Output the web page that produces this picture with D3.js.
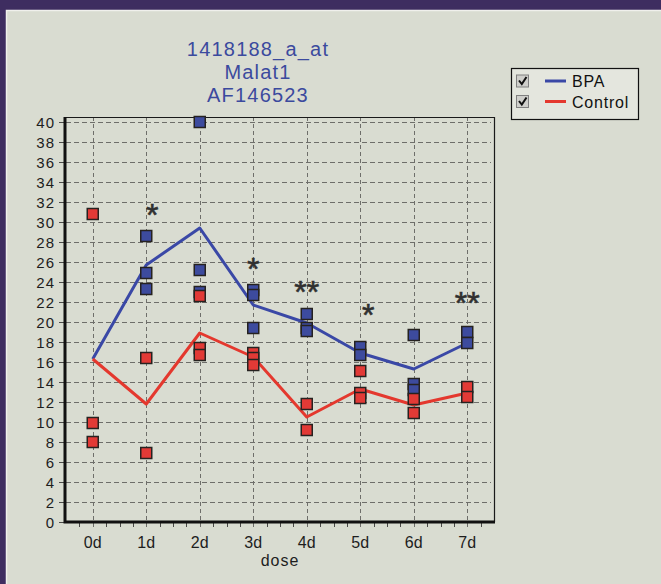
<!DOCTYPE html>
<html>
<head>
<meta charset="utf-8">
<script src="https://cdn.jsdelivr.net/npm/d3@7"></script>
<style>
  html, body { margin: 0; padding: 0; background: #d9dcd1; overflow: hidden; }
  svg { display: block; font-family: "Liberation Sans", Arial, sans-serif; }
</style>
</head>
<body>
<svg id="chart" width="661" height="584"></svg>
<script>
// ---- data ----
const days = ["0d", "1d", "2d", "3d", "4d", "5d", "6d", "7d"];
const yTickValues = [0, 2, 4, 6, 8, 10, 12, 14, 16, 18, 20, 22, 24, 26, 28, 30, 32, 34, 36, 38, 40];
const titleLines = ["1418188_a_at", "Malat1", "AF146523"];
const seriesNames = ["BPA", "Control"];

// group means (lines)
const bpaMean = [16.3, 25.7, 29.4, 21.7, 19.9, 16.9, 15.3, 17.9];
const controlMean = [16.3, 11.8, 18.9, 16.5, 10.5, 13.3, 11.7, 12.9];

// individual samples per day (squares)
const bpaSamples = [
  [], [28.6, 24.9, 23.3], [40.0, 25.2, 23.0], [23.2, 22.7, 19.4],
  [20.8, 19.4, 19.1], [17.5, 16.7], [18.7, 13.8, 13.2], [19.0, 17.9]
];
const controlSamples = [
  [30.8, 9.9, 8.0], [16.4, 6.9], [22.6, 17.4, 16.7], [16.9, 16.4, 15.7],
  [11.8, 9.2], [15.1, 12.9, 12.4], [12.3, 10.9], [13.5, 12.5]
];

// significance marks
const starDays = ["1d", "3d", "4d", "5d", "7d"];
const starMarks = ["*", "*", "**", "*", "**"];
const starLevels = [31.5, 26.1, 23.8, 21.5, 22.7];

// ---- styles ----
const colors = { BPA: "#3a48a6", Control: "#e4382e" };
const squareFill = { BPA: "#3d4b9e", Control: "#e23a36" };
const starShift = [6, 0, 0, 8, 0];

const svg = d3.select("#chart");

// panel background with dark band along the top and left edges
svg.append("rect").attr("width", 661).attr("height", 584).attr("fill", "#d9dcd1");
svg.append("path").attr("d", "M0,0 H661 V10 H6 V584 H0 Z").attr("fill", "#3e2d60");
svg.append("path").attr("d", "M6.5,584 V10.5 H661")
  .attr("fill", "none").attr("stroke", "#f0f0ec").attr("stroke-width", 1.5);

const plot = { left: 66, right: 494, top: 117, bottom: 522 };

const x = d3.scalePoint().domain(days).range([plot.left, plot.right]).padding(0.5);
const y = d3.scaleLinear().domain([0, 40]).range([522, 122]);
const xIdx = d3.scaleLinear().domain([-0.5, days.length - 0.5]).range([plot.left, plot.right]);

// title
const title = svg.append("g").attr("fill", "#3b4a9e").attr("font-size", 20)
  .attr("text-anchor", "middle").style("letter-spacing", "1.2px");
titleLines.forEach((t, i) => {
  title.append("text").attr("x", 258).attr("y", 56 + i * 23).text(t);
});

// grid: horizontal
svg.append("g").selectAll("line").data(yTickValues.filter(v => v > 0)).join("line")
  .attr("x1", plot.left).attr("x2", plot.right - 3)
  .attr("y1", d => y(d) + 0.5).attr("y2", d => y(d) + 0.5)
  .attr("stroke", "#6e6e6a").attr("stroke-width", 1).attr("stroke-dasharray", "5,3");

// grid: vertical
svg.append("g").selectAll("line").data(days).join("line")
  .attr("x1", d => Math.round(x(d)) + 0.5).attr("x2", d => Math.round(x(d)) + 0.5)
  .attr("y1", plot.top).attr("y2", plot.bottom + 6)
  .attr("stroke", "#6e6e6a").attr("stroke-width", 1).attr("stroke-dasharray", "4,3");

// minor x ticks
const minor = d3.range(-0.25, days.length - 0.5, 0.25).filter(v => Math.abs(v - Math.round(v)) > 0.01);
svg.append("g").selectAll("line").data(minor).join("line")
  .attr("x1", d => Math.round(xIdx(d)) + 0.5).attr("x2", d => Math.round(xIdx(d)) + 0.5)
  .attr("y1", plot.bottom).attr("y2", plot.bottom + 5)
  .attr("stroke", "#4a4a48").attr("stroke-width", 1);

// y ticks
svg.append("g").selectAll("line").data(yTickValues).join("line")
  .attr("x1", 59).attr("x2", plot.left)
  .attr("y1", d => y(d) + 0.5).attr("y2", d => y(d) + 0.5)
  .attr("stroke", "#4a4a48").attr("stroke-width", 1);

// frame
svg.append("path").attr("d", `M${plot.left},${plot.top + 0.5} H${plot.right + 0.5} V${plot.bottom}`)
  .attr("fill", "none").attr("stroke", "#1a1a1a").attr("stroke-width", 1.2);
svg.append("path").attr("d", `M${plot.left - 1},${plot.top} V${plot.bottom} H${plot.right + 1}`)
  .attr("fill", "none").attr("stroke", "#111").attr("stroke-width", 3);

// y labels
svg.append("g").attr("font-size", 15).attr("fill", "#1e1e1e").attr("text-anchor", "end")
  .style("letter-spacing", "1.3px")
  .selectAll("text").data(yTickValues).join("text")
  .attr("x", 55.5).attr("y", d => y(d) + 5.5).text(d => d);

// x labels
svg.append("g").attr("font-size", 16).attr("fill", "#1e1e1e").attr("text-anchor", "middle")
  .selectAll("text").data(days).join("text")
  .attr("x", d => x(d)).attr("y", 548).text(d => d);
svg.append("text").attr("x", 280).attr("y", 566).attr("font-size", 16).attr("fill", "#1e1e1e")
  .attr("text-anchor", "middle").style("letter-spacing", "1px").text("dose");

// mean lines
const line = d3.line().x((d, i) => x(days[i])).y(d => y(d));
svg.append("path").datum(bpaMean).attr("d", line)
  .attr("fill", "none").attr("stroke", colors.BPA).attr("stroke-width", 3).attr("stroke-linejoin", "round");
svg.append("path").datum(controlMean).attr("d", line)
  .attr("fill", "none").attr("stroke", colors.Control).attr("stroke-width", 3).attr("stroke-linejoin", "round");

// sample squares
function drawSamples(samples, name) {
  const pts = samples.flatMap((vals, i) => vals.map(v => ({ day: days[i], v })));
  svg.append("g").selectAll("rect").data(pts).join("rect")
    .attr("x", d => x(d.day) - 5.5).attr("y", d => y(d.v) - 5.5)
    .attr("width", 11).attr("height", 11)
    .attr("fill", squareFill[name]).attr("stroke", "#262220").attr("stroke-width", 1.5);
}
drawSamples(bpaSamples, "BPA");
drawSamples(controlSamples, "Control");

// significance stars
svg.append("g").attr("font-size", 32).attr("fill", "#303030").attr("text-anchor", "middle")
  .attr("stroke", "#303030").attr("stroke-width", 0.6)
  .selectAll("text").data(starDays).join("text")
  .attr("x", (d, i) => x(d) + starShift[i])
  .attr("y", (d, i) => y(starLevels[i]) + 18.5)
  .text((d, i) => starMarks[i]);

// legend
const lg = svg.append("g");
lg.append("rect").attr("x", 511.5).attr("y", 68.5).attr("width", 127).attr("height", 51)
  .attr("fill", "#e4e6de").attr("stroke", "#111").attr("stroke-width", 1.2);
seriesNames.forEach((name, i) => {
  const cy = 81 + i * 20.5;
  lg.append("rect").attr("x", 516.5).attr("y", cy - 6).attr("width", 12).attr("height", 12)
    .attr("fill", "#cfcfcb").attr("stroke", "#808080").attr("stroke-width", 1);
  lg.append("path").attr("d", `M519,${cy - 0.5} L521.8,${cy + 3} L526.5,${cy - 4}`)
    .attr("fill", "none").attr("stroke", "#111").attr("stroke-width", 2);
  lg.append("line").attr("x1", 545).attr("x2", 566).attr("y1", cy).attr("y2", cy)
    .attr("stroke", colors[name]).attr("stroke-width", 3);
  lg.append("text").attr("x", 572).attr("y", cy + 6).attr("font-size", 16).attr("fill", "#111")
    .style("letter-spacing", "0.8px").text(name);
});
</script>
</body>
</html>
